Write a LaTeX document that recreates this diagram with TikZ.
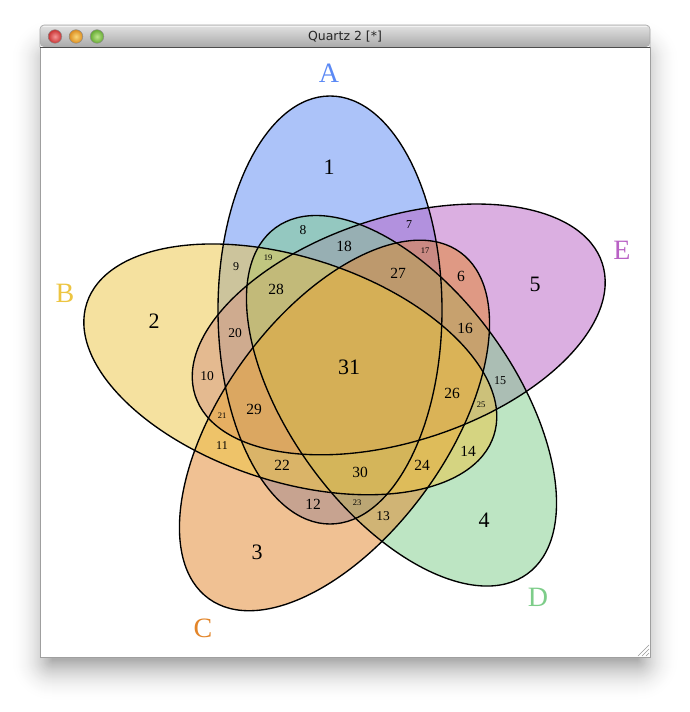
\documentclass[tikz,border=0pt]{standalone}
\usepackage{fontspec}
\setmainfont{Liberation Serif}
\newfontfamily\uifont{DejaVu Sans}
\definecolor{cA}{RGB}{91,137,245}
\definecolor{cB}{RGB}{237,197,65}
\definecolor{cC}{RGB}{227,133,41}
\definecolor{cD}{RGB}{125,205,137}
\definecolor{cE}{RGB}{185,97,197}
\definecolor{tbtop}{RGB}{226,226,226}
\definecolor{tbbot}{RGB}{170,170,170}
\definecolor{redin}{RGB}{245,150,150}
\definecolor{redout}{RGB}{200,50,50}
\definecolor{yelin}{RGB}{250,215,120}
\definecolor{yelout}{RGB}{220,140,30}
\definecolor{grnin}{RGB}{190,230,140}
\definecolor{grnout}{RGB}{100,170,50}
\tikzset{
  vline/.style={draw=black, line width=1.35pt},
  setlabel/.style={inner sep=0pt, font=\fontsize{28}{28}\selectfont},
  nbig/.style={inner sep=0pt, font=\fontsize{22}{22}\selectfont},
  nmid/.style={inner sep=0pt, font=\fontsize{15.5}{15.5}\selectfont},
  nsm/.style={inner sep=0pt, font=\fontsize{13.5}{13.5}\selectfont},
  nxs/.style={inner sep=0pt, font=\fontsize{12}{12}\selectfont},
  ntiny/.style={inner sep=0pt, font=\fontsize{8.5}{8.5}\selectfont},
  winbtn/.style={draw=black!45, line width=0.5pt},
}
\begin{document}
\begin{tikzpicture}[x=1pt,y=-1pt]
\useasboundingbox (0,0) rectangle (690,712);
\fill[white] (0,0) rectangle (690,712);
% window shadow (opaque steps)
\foreach \i in {42,41,...,0} {
  \pgfmathsetmacro{\dk}{32*(1-\i/42)^2}
  \fill[black!\dk, rounded corners=\i pt+0.5pt] (52-\i,60-\i) rectangle (638+\i,660+\i);
}
% window content
\fill[white] (40,25) rectangle (650,657);
\draw[gray!75, line width=0.8pt] (40,47) rectangle (650,657);
% title bar
\shade[top color=tbtop, bottom color=tbbot, rounded corners=4pt] (40,47) -- (40,25) -- (650,25) -- (650,47) -- cycle;
\draw[white!90!gray, line width=0.6pt] (43,25.8) -- (647,25.8);
\draw[gray!70, line width=0.6pt, rounded corners=4pt] (40,47) -- (40,25) -- (650,25) -- (650,47);
\draw[black!70, line width=0.8pt] (40,47) -- (650,47);
\shade[winbtn, inner color=redin, outer color=redout] (55,36.5) circle (6.8pt);
\shade[winbtn, inner color=yelin, outer color=yelout] (76,36.5) circle (6.8pt);
\shade[winbtn, inner color=grnin, outer color=grnout] (97,36.5) circle (6.8pt);
\node[inner sep=0pt, font=\uifont\fontsize{12.5}{12.5}\selectfont, text=black!85] (title) at (345,37) {Quartz 2 [*]};
% resize grip
\foreach \d in {3,7,11} {
  \draw[gray!80, line width=0.6pt] (649-\d,656) -- (649,656-\d);
}
% ellipses
\begin{scope}[shift={(351,367)}]
  \foreach \k/\c in {0/cA,4/cE,3/cD,2/cC,1/cB} {
    \fill[\c, fill opacity=0.5, rotate=72*\k] (-21,-57) ellipse [x radius=112pt, y radius=214pt];
  }
  \foreach \k in {0,...,4} {
    \draw[vline, rotate=72*\k] (-21,-57) ellipse [x radius=112pt, y radius=214pt];
  }
\end{scope}
% set labels
\node[setlabel, text=cA] (LA) at (329,73) {A};
\node[setlabel, text=cB] (LB) at (65,293) {B};
\node[setlabel, text=cC] (LC) at (203,628) {C};
\node[setlabel, text=cD] (LD) at (538,597) {D};
\node[setlabel, text=cE] (LE) at (622,250) {E};
% region numbers
\node[nbig] (n1) at (329,167) {1};
\node[nbig] (n2) at (154,321) {2};
\node[nbig] (n3) at (257,552) {3};
\node[nbig] (n4) at (484,520) {4};
\node[nbig] (n5) at (535,284) {5};
\node[nmid] (n6) at (461,276) {6};
\node[nxs] (n7) at (409,225) {7};
\node[nsm] (n8) at (303,230) {8};
\node[nxs] (n9) at (236,267) {9};
\node[nsm] (n10) at (207,376) {10};
\node[nxs] (n11) at (222,446) {11};
\node[nmid] (n12) at (313,504) {12};
\node[nsm] (n13) at (383,516) {13};
\node[nmid] (n14) at (468,451) {14};
\node[nxs] (n15) at (500,381) {15};
\node[nmid] (n16) at (465,328) {16};
\node[ntiny] (n17) at (425,251) {17};
\node[nmid] (n18) at (344,246) {18};
\node[ntiny] (n19) at (268,258) {19};
\node[nsm] (n20) at (235,333) {20};
\node[ntiny] (n21) at (222,416) {21};
\node[nmid] (n22) at (282,465) {22};
\node[ntiny] (n23) at (357,503) {23};
\node[nmid] (n24) at (422,465) {24};
\node[ntiny] (n25) at (481,405) {25};
\node[nmid] (n26) at (452,393) {26};
\node[nmid] (n27) at (398,273) {27};
\node[nmid] (n28) at (276,289) {28};
\node[nmid] (n29) at (254,409) {29};
\node[nmid] (n30) at (360,472) {30};
\node[nbig] (n31) at (349,367) {31};
\end{tikzpicture}
\end{document}
